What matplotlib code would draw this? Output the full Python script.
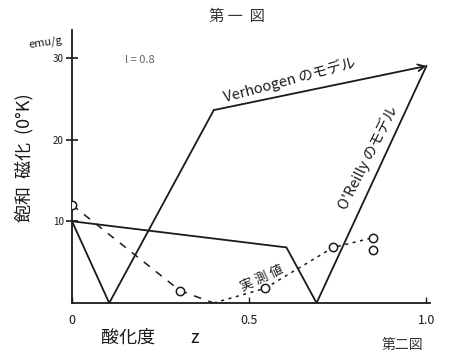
import matplotlib.pyplot as plt

plt.rcParams['font.family'] = ['Noto Sans CJK JP', 'DejaVu Sans']

# 酸化度 z に対する飽和磁化 (emu/g)
verhoogen_x = [0.0, 0.105, 0.40, 1.0]
verhoogen_y = [10.0, 0.0, 23.6, 29.0]

oreilly_x = [0.0, 0.605, 0.69, 1.0]
oreilly_y = [10.0, 6.8, 0.0, 29.0]

# 実測値
meas_x = [0.0, 0.305, 0.545, 0.737, 0.85, 0.85]
meas_y = [12.0, 1.5, 1.8, 6.8, 8.0, 6.5]
dash_x = [0.0, 0.305, 0.40]
dash_y = [12.0, 1.5, 0.0]
dot_x = [0.40, 0.545, 0.737, 0.85]
dot_y = [0.0, 1.8, 6.8, 8.0]

y_ticks = [10, 20, 30]
x_ticks = [0, 0.5, 1.0]
x_tick_labels = ['0', '0.5', '1.0']

W, H = 451, 353


def px(x, y):
    return x / W, 1 - y / H


fig = plt.figure(figsize=(W / 100, H / 100), dpi=100)
ax = fig.add_axes([72 / W, 1 - 303 / H, 358 / W, 273 / H])
ax.set_xlim(0, 1.01)
ax.set_ylim(0, 33.4)

ink = '#1a1a1a'
ax.plot(verhoogen_x[:-1], verhoogen_y[:-1], color=ink, lw=1.3)
ax.annotate('', xy=(verhoogen_x[-1], verhoogen_y[-1]),
            xytext=(verhoogen_x[-2], verhoogen_y[-2]),
            arrowprops=dict(arrowstyle='->', color=ink, lw=1.3,
                            shrinkA=0, shrinkB=0, mutation_scale=12))
ax.plot(oreilly_x, oreilly_y, color=ink, lw=1.3)

ax.plot(dash_x, dash_y, color=ink, lw=1.1, ls=(0, (5, 5)))
ax.plot(dot_x, dot_y, color=ink, lw=1.1, ls=(0, (2, 3)))
ax.plot(meas_x, meas_y, ls='none', marker='o', ms=6,
        mfc='white', mec=ink, mew=1.1, zorder=3)

for s in ['top', 'right']:
    ax.spines[s].set_visible(False)
for s in ['left', 'bottom']:
    ax.spines[s].set_color(ink)
    ax.spines[s].set_linewidth(1.3)

ax.set_yticks(y_ticks)
ax.set_yticklabels([str(v) for v in y_ticks], fontsize=7, color='#333333')
ax.tick_params(axis='y', direction='inout', length=8, width=1.2, colors=ink, pad=2)
ax.set_xticks(x_ticks)
ax.set_xticklabels(x_tick_labels, fontsize=9, style='italic', color=ink)
ax.tick_params(axis='x', direction='in', length=4, width=1.0, colors=ink, pad=8)

fig.text(*px(237, 16), '第 一  図', fontsize=11, color='#333333', ha='center', va='center')
fig.text(*px(45, 42), 'emu/g', fontsize=8, color=ink, ha='center', va='center', rotation=8)
fig.text(*px(140, 60), 'l = 0.8', fontsize=8, color='#666666', ha='center', va='center')
fig.text(*px(24, 158), '飽和  磁化  (0°K)', fontsize=13, color=ink,
         ha='center', va='center', rotation=90)
fig.text(*px(150, 338), '酸化度　　z', fontsize=13, color=ink, ha='center', va='center')
fig.text(*px(402, 338), '第二図', fontsize=10, color='#333333', ha='center', va='top')

fig.text(*px(290, 80), 'Verhoogen のモデル', fontsize=10.5, color=ink,
         ha='center', va='center', rotation=15)
fig.text(*px(368, 157), "O'Reilly のモデル", fontsize=10.5, color=ink,
         ha='center', va='center', rotation=63)
fig.text(*px(262, 278), '実 測 値', fontsize=9.5, color=ink,
         ha='center', va='center', rotation=24)

fig.savefig('out.png', dpi=100, facecolor='white')
